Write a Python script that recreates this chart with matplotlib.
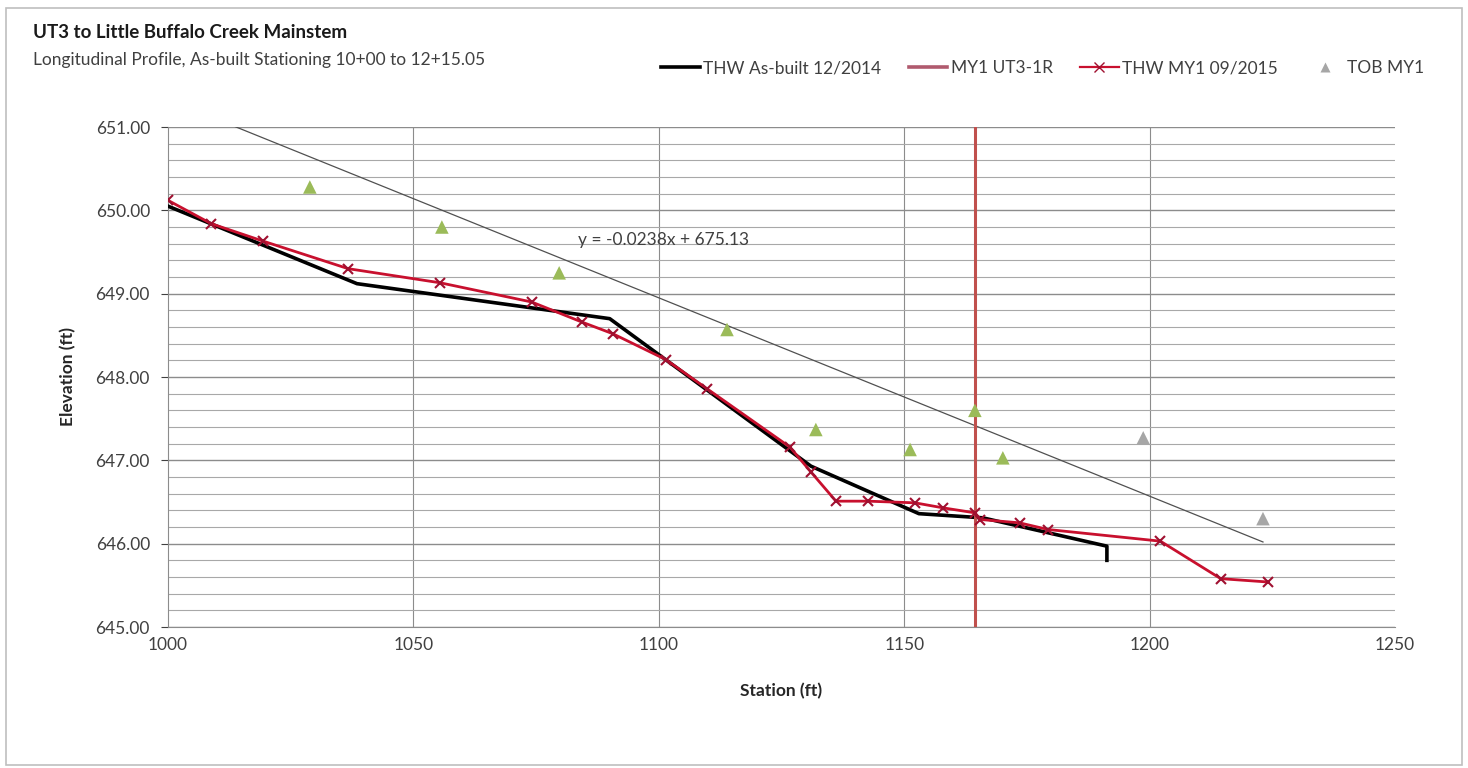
import matplotlib
matplotlib.use("Agg")
import matplotlib.pyplot as plt
import matplotlib.patches as patches
from matplotlib.lines import Line2D
from matplotlib.ticker import MultipleLocator, FormatStrFormatter
import numpy as np

plt.rcParams['font.family'] = ['Lato', 'DejaVu Sans']

# ------------------- Data -------------------

# THW As-built 12/2014
asbuilt_sta = [1000.0, 1038.5, 1090.0, 1131.0, 1153.0, 1166.0, 1191.3, 1191.3]
asbuilt_elev = [650.05, 649.12, 648.70, 646.93, 646.36, 646.31, 645.97, 645.80]

# THW MY1 09/2015
my1_sta = [1000.0, 1008.8, 1019.4, 1036.7, 1055.5, 1074.1, 1084.3, 1090.6,
           1101.4, 1109.8, 1126.7, 1131.0, 1136.1, 1142.6, 1152.2, 1157.9,
           1164.4, 1165.5, 1173.5, 1179.3, 1202.2, 1214.5, 1224.1]
my1_elev = [650.12, 649.84, 649.63, 649.30, 649.13, 648.90, 648.66, 648.52,
            648.21, 647.86, 647.16, 646.86, 646.51, 646.51, 646.49, 646.43,
            646.37, 646.29, 646.25, 646.17, 646.03, 645.58, 645.54]

# TOB MY1
tob_sta = [1028.9, 1055.8, 1079.7, 1113.9, 1132.0, 1151.2, 1164.4, 1170.1,
           1198.7, 1223.1]
tob_elev = [650.28, 649.80, 649.25, 648.57, 647.37, 647.13, 647.60, 647.03,
            647.27, 646.30]
tob_colors = ['#9BBB59'] * 8 + ['#A6A6A6'] * 2

# MY1 UT3-1R (vertical marker)
ut3_1r_sta = 1164.5

# Linear trendline shown on the chart
trend_slope = -0.0238
trend_icept = 675.13
trend_range = [1000.0, 1223.1]

# ------------------- Figure -------------------

fig = plt.figure(figsize=(14.68, 7.68), dpi=100)
ax = fig.add_axes([168 / 1468, 1 - 627 / 768, (1395 - 168) / 1468, 500 / 768])

# outer chart border
fig.patches.append(patches.Rectangle((0.004, 0.004), 0.992, 0.986,
                                     transform=fig.transFigure, fill=False,
                                     edgecolor='#BFBFBF', linewidth=1.2))

ax.set_xlim(1000, 1250)
ax.set_ylim(645, 651)
ax.xaxis.set_major_locator(MultipleLocator(50))
ax.yaxis.set_major_locator(MultipleLocator(1))
ax.yaxis.set_minor_locator(MultipleLocator(0.2))
ax.yaxis.set_major_formatter(FormatStrFormatter('%.2f'))

ax.grid(axis='y', which='major', color='#8C8C8C', linewidth=1.0)
ax.grid(axis='y', which='minor', color='#A8A8A8', linewidth=0.8)
ax.set_axisbelow(True)

# vertical gridlines, none on the right edge
for xt in ax.get_xticks():
    if 1000 < xt < 1250:
        ax.axvline(xt, color='#8C8C8C', linewidth=0.8, zorder=0.5)

for s in ['top', 'right']:
    ax.spines[s].set_visible(False)
for s in ['left', 'bottom']:
    ax.spines[s].set_color('#8C8C8C')

ax.tick_params(axis='both', which='major', labelsize=12.5, colors='#404040',
               direction='out', length=5, pad=8)
ax.tick_params(axis='y', which='minor', length=0)
ax.tick_params(axis='x', length=0, pad=7)

# trendline
tx = np.array(trend_range)
ax.plot(tx, trend_slope * tx + trend_icept, color='#505050', linewidth=0.9,
        zorder=2)
ax.text(1083.5, 649.64, 'y = -0.0238x + 675.13', fontsize=12.5,
        color='#404040', va='center', ha='left')

# series
ax.plot(asbuilt_sta, asbuilt_elev, color='black', linewidth=2.6, zorder=3)
ax.axvline(ut3_1r_sta, color='#C0504D', linewidth=2.2, zorder=4)
ax.plot(my1_sta, my1_elev, color='#C8102E', linewidth=2.0, marker='x',
        markersize=7, markeredgewidth=1.5, markeredgecolor='#A01030', zorder=5)
ax.scatter(tob_sta, tob_elev, marker='^', s=95, c=tob_colors,
           edgecolors='none', zorder=6)

ax.set_xlabel('Station (ft)', fontsize=12.5, fontweight='bold',
              color='#262626', labelpad=22)
ax.set_ylabel('Elevation (ft)', fontsize=12.5, fontweight='bold',
              color='#262626', labelpad=14)

fig.text(33 / 1468, 1 - 33 / 768, 'UT3 to Little Buffalo Creek Mainstem',
         fontsize=13.5, fontweight='bold', color='#1A1A1A', va='center')
fig.text(33 / 1468, 1 - 60 / 768,
         'Longitudinal Profile, As-built Stationing 10+00 to 12+15.05',
         fontsize=12.5, color='#404040', va='center')

handles = [
    Line2D([], [], color='black', linewidth=2.6),
    Line2D([], [], color='#B05A6E', linewidth=2.6),
    Line2D([], [], color='#C8102E', linewidth=1.6, marker='x', markersize=7,
           markeredgecolor='#A01030'),
    Line2D([], [], color='none', marker='^', markersize=7,
           markerfacecolor='#A6A6A6', markeredgecolor='none'),
]
labels = ['THW As-built 12/2014', 'MY1 UT3-1R', 'THW MY1 09/2015', 'TOB MY1']
fig.legend(handles, labels, loc='center right', ncol=4, frameon=False,
           bbox_to_anchor=(1440 / 1468, 1 - 68 / 768), fontsize=12.5,
           handlelength=2.2, handletextpad=0.2, columnspacing=1.6,
           labelcolor='#404040')

fig.savefig('out.png', dpi=100)
